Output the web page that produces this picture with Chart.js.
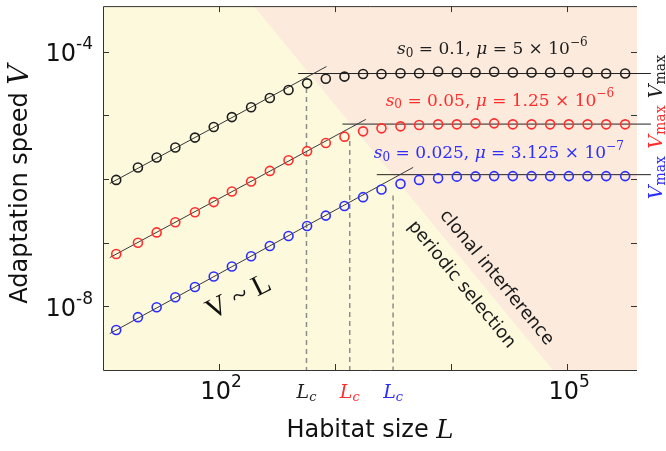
<!DOCTYPE html>
<html>
<head>
<meta charset="utf-8">
<script src="https://cdn.jsdelivr.net/npm/chart.js@4/dist/chart.umd.min.js"></script>
<style>
  body { margin: 0; background: #fff; }
  canvas { display: block; }
</style>
</head>
<body>
<canvas id="speed" width="666" height="451"></canvas>
<script>
// habitat sizes of the simulated points (same for every series)
const habitatSize = [13, 20, 29, 42, 62, 90, 129, 189, 274, 397, 574, 832, 1205, 1743,
    2512, 3663, 5298, 7726, 11200, 16230, 23490, 34030, 49340, 71370, 103400, 149900, 216900, 316200];

// adaptation speed, one array per parameter set
const speedBlack = [9.68e-7, 1.52e-6, 2.18e-6, 3.12e-6, 4.47e-6, 6.55e-6, 9.38e-6, 1.34e-5, 1.87e-5, 2.50e-5,
    3.18e-5, 3.76e-5, 4.06e-5, 4.45e-5, 4.45e-5, 4.59e-5, 4.59e-5, 4.88e-5, 4.71e-5, 4.71e-5,
    4.83e-5, 4.71e-5, 4.71e-5, 4.71e-5, 4.77e-5, 4.71e-5, 4.54e-5, 4.54e-5];
const speedRed = [6.64e-8, 9.95e-8, 1.45e-7, 2.09e-7, 3.00e-7, 4.34e-7, 6.37e-7, 9.12e-7, 1.34e-6, 1.97e-6,
    2.74e-6, 3.67e-6, 4.63e-6, 5.61e-6, 6.25e-6, 6.72e-6, 7.04e-6, 7.22e-6, 7.22e-6, 7.48e-6,
    7.48e-6, 7.22e-6, 7.22e-6, 7.22e-6, 7.22e-6, 7.22e-6, 7.22e-6, 7.22e-6];
const speedBlue = [4.24e-9, 6.76e-9, 9.68e-9, 1.39e-8, 2.01e-8, 2.94e-8, 4.22e-8, 6.12e-8, 8.86e-8, 1.27e-7,
    1.83e-7, 2.66e-7, 3.76e-7, 5.19e-7, 6.84e-7, 8.39e-7, 9.68e-7, 1.03e-6, 1.09e-6, 1.10e-6,
    1.11e-6, 1.11e-6, 1.11e-6, 1.11e-6, 1.11e-6, 1.11e-6, 1.11e-6, 1.11e-6];

// parameters of each series
const s0Values = ["0.1", "0.05", "0.025"];
const muMantissa = ["5", "1.25", "3.125"];
const muExponent = ["6", "6", "7"];

// V ~ L guide lines: [L, V] at both ends
const fitBlack = [[11.45, 8.51e-7], [843, 5.84e-5]];
const fitRed = [[11.45, 5.83e-8], [1840, 8.63e-6]];
const fitBlue = [[11.45, 3.73e-9], [4704, 1.52e-6]];

// plateau V_max and where its line starts
const vmax = [4.54e-5, 7.29e-6, 1.17e-6];
const vmaxFrom = [480, 1158, 2288];
const vmaxTo = 526800;

// crossover sizes L_c and the top of their dashed markers
const critSize = [567, 1338, 3162];
const critTop = [2.68e-5, 3.96e-6, 5.51e-7];

// border between periodic selection and clonal interference
const regimeEdge = [[199, 5.2e-4], [75300, 1e-9]];

// ticks: value -> exponent shown (empty = tick mark only)
const xTicks = [1e2, 1e3, 1e4, 1e5];
const xTickExp = ["2", "", "", "5"];
const yTicks = [1e-4, 1e-5, 1e-6, 1e-7, 1e-8];
const yTickExp = ["-4", "", "", "", "-8"];

const colors = ["#1e1e1e", "#ff2d2d", "#2d2dff"];
const yellow = "#fcf9dc";
const pink = "#fcebdd";
const serif = '"DejaVu Serif"';
const sans = '"DejaVu Sans"';

function pts(xs, ys) {
    return xs.map((x, i) => ({ x: x, y: ys[i] }));
}

function pairs(p) {
    return p.map(v => ({ x: v[0], y: v[1] }));
}

// draw text made of pieces with their own font and offset
function drawRich(ctx, parts, x, y, angle, color, align) {
    ctx.save();
    ctx.translate(x, y);
    ctx.rotate(angle);
    ctx.textBaseline = "middle";
    ctx.textAlign = "left";
    let w = 0;
    for (const p of parts) {
        ctx.font = p.font;
        w += ctx.measureText(p.text).width;
    }
    let cx = align === "right" ? -w : -w / 2;
    for (const p of parts) {
        ctx.font = p.font;
        ctx.fillStyle = p.color || color;
        ctx.fillText(p.text, cx, p.dy || 0);
        cx += ctx.measureText(p.text).width;
    }
    ctx.restore();
}

function paramParts(i) {
    return [
        { text: "s", font: "italic 17px " + serif },
        { text: "0", font: "12px " + serif, dy: 4 },
        { text: " = " + s0Values[i] + ", ", font: "17px " + serif },
        { text: "μ", font: "italic 17px " + serif },
        { text: " = " + muMantissa[i] + " × 10", font: "17px " + serif },
        { text: "−" + muExponent[i], font: "12px " + serif, dy: -7 }
    ];
}

function powerParts(exp) {
    return [
        { text: "10", font: "24px " + sans },
        { text: exp, font: "17px " + sans, dy: -10 }
    ];
}

// where the parameter notes sit, in data units [L, V]
const noteAt = [[22650, 1.07e-4], [26300, 1.66e-5], [25760, 2.51e-6]];

const decorations = {
    id: "decorations",
    afterDraw(chart) {
        const ctx = chart.ctx;
        const { left, right, top, bottom } = chart.chartArea;
        const xs = chart.scales.x;
        const ys = chart.scales.y;

        // frame (no right spine) and inward ticks
        ctx.save();
        ctx.strokeStyle = "#333";
        ctx.lineWidth = 1;
        ctx.beginPath();
        ctx.moveTo(right, top + 0.5);
        ctx.lineTo(left + 0.5, top + 0.5);
        ctx.lineTo(left + 0.5, bottom + 0.5);
        ctx.lineTo(right, bottom + 0.5);
        for (const v of xTicks) {
            const px = Math.round(xs.getPixelForValue(v)) + 0.5;
            ctx.moveTo(px, bottom);
            ctx.lineTo(px, bottom - 6);
            ctx.moveTo(px, top);
            ctx.lineTo(px, top + 6);
        }
        for (const v of yTicks) {
            const py = Math.round(ys.getPixelForValue(v)) + 0.5;
            ctx.moveTo(left, py);
            ctx.lineTo(left + 6, py);
            ctx.moveTo(right, py);
            ctx.lineTo(right - 6, py);
        }
        ctx.stroke();

        // tick labels with real superscripts
        xTicks.forEach((v, i) => {
            if (xTickExp[i]) {
                drawRich(ctx, powerParts(xTickExp[i]), xs.getPixelForValue(v) + 2, bottom + 23, 0, "#111");
            }
        });
        yTicks.forEach((v, i) => {
            if (yTickExp[i]) {
                drawRich(ctx, powerParts(yTickExp[i]), left - 10, ys.getPixelForValue(v) + 3, 0, "#111", "right");
            }
        });

        // V_max lines reach outside the plot, then the rotated labels
        for (let i = 0; i < vmax.length; i++) {
            const py = ys.getPixelForValue(vmax[i]);
            drawRich(ctx, [
                { text: "V", font: "italic 19px " + serif },
                { text: "max", font: "14px " + serif, dy: 4 }
            ], right + 20, py + 3, -Math.PI / 2, colors[i]);
        }

        // parameter notes
        noteAt.forEach((p, i) => {
            drawRich(ctx, paramParts(i), xs.getPixelForValue(p[0]), ys.getPixelForValue(p[1]), 0, colors[i]);
        });

        // L_c under the axis
        critSize.forEach((L, i) => {
            drawRich(ctx, [
                { text: "L", font: "italic 19px " + serif },
                { text: "c", font: "italic 13px " + serif, dy: 5 }
            ], xs.getPixelForValue(L), bottom + 23, 0, colors[i]);
        });

        // regime names along the border
        const ang = Math.atan2(ys.getPixelForValue(regimeEdge[1][1]) - ys.getPixelForValue(regimeEdge[0][1]),
            xs.getPixelForValue(regimeEdge[1][0]) - xs.getPixelForValue(regimeEdge[0][0]));
        drawRich(ctx, [{ text: "clonal interference", font: "18px " + sans }],
            xs.getPixelForValue(24600), ys.getPixelForValue(2.81e-8), ang, "#1a1a1a");
        drawRich(ctx, [{ text: "periodic selection", font: "18px " + sans }],
            xs.getPixelForValue(12300), ys.getPixelForValue(2.19e-8), ang, "#1a1a1a");

        // V ~ L
        drawRich(ctx, [{ text: "V ~ L", font: '29px "Liberation Serif"' }],
            xs.getPixelForValue(148), ys.getPixelForValue(1.37e-8), -0.47, "#111");

        // axis titles
        drawRich(ctx, [
            { text: "Adaptation speed ", font: "24px " + sans },
            { text: "V", font: "italic 28px " + serif }
        ], 21, (top + bottom) / 2 - 4, -Math.PI / 2, "#111");
        drawRich(ctx, [
            { text: "Habitat size ", font: "24px " + sans },
            { text: "L", font: "italic 26px " + serif }
        ], (left + right) / 2, 431, 0, "#111");
        ctx.restore();
    }
};

const datasets = [];

// background regions
datasets.push({
    data: [{ x: 199, y: 5.2e-4 }, { x: 4e5, y: 5.2e-4 }],
    showLine: true, fill: "start", backgroundColor: pink,
    borderWidth: 0, pointRadius: 0, order: 100
});
datasets.push({
    data: [{ x: 10, y: 5.2e-4 }].concat(pairs(regimeEdge)),
    showLine: true, fill: "start", backgroundColor: yellow,
    borderWidth: 0, pointRadius: 0, order: 99
});

// dashed L_c markers
critSize.forEach((L, i) => {
    datasets.push({
        data: [{ x: L, y: critTop[i] }, { x: L, y: 1e-9 }],
        showLine: true, borderColor: "#8c8c8c", borderWidth: 1.5, borderDash: [5, 4],
        pointRadius: 0, order: 50
    });
});

// guide lines and plateaus
[fitBlack, fitRed, fitBlue].forEach(f => {
    datasets.push({
        data: pairs(f), showLine: true, borderColor: "#3a3a3a", borderWidth: 1,
        pointRadius: 0, order: 20
    });
});
vmax.forEach((v, i) => {
    datasets.push({
        data: [{ x: vmaxFrom[i], y: v }, { x: vmaxTo, y: v }], showLine: true,
        borderColor: "#222", borderWidth: 1, pointRadius: 0, clip: false, order: 20
    });
});

// simulation points
[speedBlack, speedRed, speedBlue].forEach((s, i) => {
    datasets.push({
        label: "s0 = " + s0Values[i],
        data: pts(habitatSize, s), showLine: false,
        pointRadius: 4.5, pointBorderWidth: 1.6,
        pointBorderColor: colors[i], pointBackgroundColor: "rgba(0,0,0,0)",
        order: 1
    });
});

new Chart(document.getElementById("speed"), {
    type: "scatter",
    data: { datasets },
    options: {
        responsive: false,
        devicePixelRatio: 1,
        animation: false,
        layout: { padding: { left: 0, right: 29, top: 4, bottom: 0 } },
        plugins: { legend: { display: false }, tooltip: { enabled: false } },
        scales: {
            x: {
                type: "logarithmic", min: 10, max: 4e5,
                grid: { display: false, drawTicks: false },
                border: { display: false },
                ticks: { display: false },
                afterBuildTicks: scale => { scale.ticks = xTicks.map(v => ({ value: v })); },
                afterFit: scale => {
                    scale.height = 81;
                    scale.paddingLeft = 0;
                    scale.paddingRight = 0;
                }
            },
            y: {
                type: "logarithmic", min: 1e-9, max: 5.2e-4,
                grid: { display: false, drawTicks: false },
                border: { display: false },
                ticks: { display: false },
                afterBuildTicks: scale => { scale.ticks = yTicks.map(v => ({ value: v })); },
                afterFit: scale => {
                    scale.width = 103;
                    scale.paddingTop = 0;
                    scale.paddingBottom = 0;
                }
            }
        }
    },
    plugins: [decorations]
});
</script>
</body>
</html>
